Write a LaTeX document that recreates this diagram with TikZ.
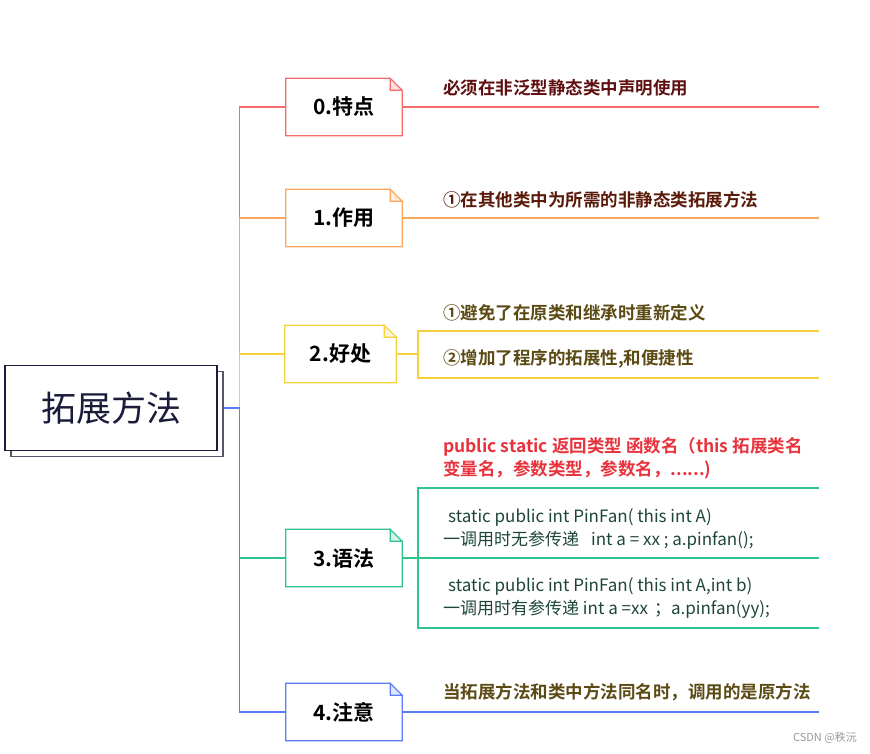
\documentclass[tikz,border=0pt]{standalone}
\usepackage{fontspec}
\setmainfont{Noto Sans CJK SC}[BoldFont={Noto Sans CJK SC Bold}]
\usepackage{tikz}
\usetikzlibrary{positioning, calc, shadows}
\definecolor{mapred}{HTML}{F46B6B}
\definecolor{maporange}{HTML}{F9A55B}
\definecolor{mapyellow}{HTML}{F7D13A}
\definecolor{mapgreen}{HTML}{2DC58C}
\definecolor{mapblue}{HTML}{5B7CF6}
\definecolor{textred}{HTML}{5F0F0F}
\definecolor{textbrown}{HTML}{5A1A0A}
\definecolor{textolive}{HTML}{5C4A14}
\definecolor{syntaxred}{HTML}{E8323C}
\definecolor{codegreen}{HTML}{1E4636}
\definecolor{rootink}{HTML}{1B1B3A}
\tikzset{
  topic/.style={minimum width=116pt, minimum height=57pt, inner sep=0pt,
    font=\fontsize{21}{25}\selectfont\bfseries},
  item/.style={anchor=west, inner sep=0pt, align=left,
    font=\fontsize{17.5}{23}\selectfont\bfseries},
  code/.style={anchor=west, inner sep=0pt, align=left, text=codegreen,
    font=\fontsize{17}{23}\selectfont},
  link/.style={line width=1.2pt},
}

\begin{document}
\begin{tikzpicture}[x=1pt, y=-1pt]
    \useasboundingbox (0,0) rectangle (870,753);
    % root
    \node[draw=rootink, line width=1.2pt, fill=white, text=rootink,
      minimum width=212pt, minimum height=85pt,
      copy shadow={shadow xshift=6pt, shadow yshift=-6pt, draw=rootink!75, line width=1.8pt},
      font=\fontsize{35}{40}\selectfont] (root) at (111,408) {拓展方法};
    \coordinate (fork) at ([xshift=22pt]root.east);
    % topics
    \node[topic] (t0) at (344,107) {0.特点};
    \node[topic] (t1) at (344,218) {1.作用};
    \node[topic, minimum width=111pt] (t2) at (340.5,354) {2.好处};
    \node[topic] (t3) at (344,558) {3.语法};
    \node[topic] (t4) at (344,712) {4.注意};
    \foreach \t/\c in {t0/mapred, t1/maporange, t2/mapyellow, t3/mapgreen, t4/mapblue}{
      \draw[link, \c] (\t.south west) -- (\t.north west) -- ([xshift=-12pt]\t.north east)
        -- ([yshift=-12pt]\t.north east) -- (\t.south east) -- cycle;
      \draw[link, \c, fill=\c!20] ([xshift=-12pt]\t.north east) |- ([yshift=-12pt]\t.north east) -- cycle;
    }
    % trunk
    \draw[link, mapred] ([xshift=6pt]root.east) -- (fork) |- (t0.west);
    \draw[link, maporange] ([xshift=6pt]root.east) -- (fork) |- (t1.west);
    \draw[link, mapyellow] ([xshift=6pt]root.east) -- (fork) |- (t2.west);
    \draw[link, mapgreen] ([xshift=6pt]root.east) -- (fork) |- (t3.west);
    \draw[link, mapblue] ([xshift=6pt]root.east) -- (fork) |- (t4.west);
    % 0
    \coordinate (e0) at (819,107);
    \draw[link, mapred] (t0.east) -- (e0);
    \node[item, text=textred] (i0) at (443,88) {必须在非泛型静态类中声明使用};
    % 1
    \coordinate (e1) at (819,218);
    \draw[link, maporange] (t1.east) -- (e1);
    \node[item, text=textbrown] (i1) at (443,200) {①在其他类中为所需的非静态类拓展方法};
    % 2
    \coordinate (b2) at (418,354);
    \coordinate (b2a) at (418,331);
    \coordinate (b2b) at (418,378);
    \draw[link, mapyellow] (t2.east) -- (b2);
    \draw[link, mapyellow] (819,331) -- (b2a) -- (b2b) -- (819,378);
    \node[item, text=textolive] (i2a) at (443,313) {①避免了在原类和继承时重新定义};
    \node[item, text=textolive] (i2b) at (443,359) {②增加了程序的拓展性,和便捷性};
    % 3
    \coordinate (b3) at (418,558);
    \coordinate (b3a) at (418,488);
    \coordinate (b3b) at (418,628);
    \draw[link, mapgreen] (t3.east) -- (b3) -- (819,558);
    \draw[link, mapgreen] (819,488) -- (b3a) -- (b3b) -- (819,628);
    \node[item, text=syntaxred] (i3) at (443,458.5) {public static 返回类型 函数名（this 拓展类名\\变量名，参数类型，参数名，......)};
    \node[code] (c1) at (443,528.5) {\hspace{5pt}static public int PinFan( this int A)\\一调用时无参传递\hspace{12pt}int a = xx ; a.pinfan();};
    \node[code] (c2) at (443,598.5) {\hspace{5pt}static public int PinFan( this int A,int b)\\一调用时有参传递 int a =xx\hspace{6pt}；a.pinfan(yy);};
    % 4
    \coordinate (e4) at (819,712);
    \draw[link, mapblue] (t4.east) -- (e4);
    \node[item, text=textolive] (i4) at (443,692) {当拓展方法和类中方法同名时，调用的是原方法};
    \node[anchor=east, inner sep=0pt, text=gray!80, font=\fontsize{11}{13}\selectfont] (mark) at (857,738) {CSDN @秩沅};
\end{tikzpicture}
\end{document}
